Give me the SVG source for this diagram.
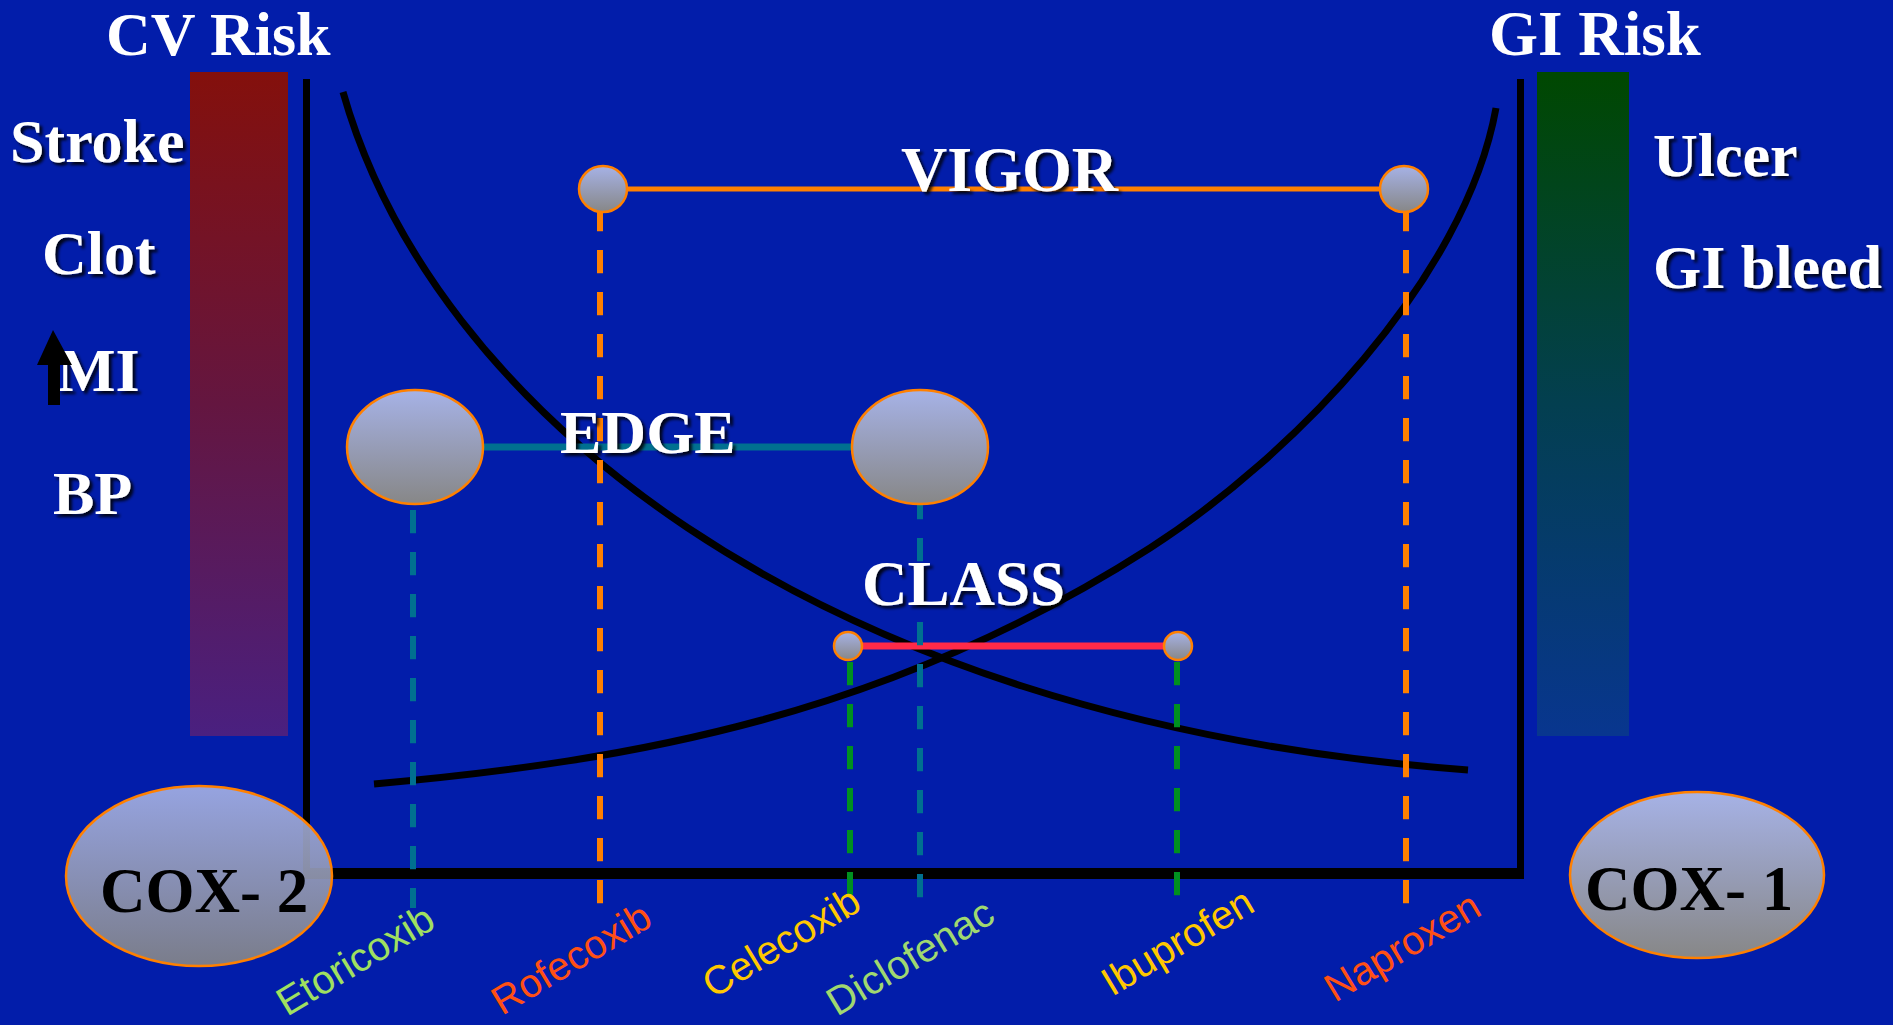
<svg xmlns="http://www.w3.org/2000/svg" width="1893" height="1025" viewBox="0 0 1893 1025">
<defs>
<linearGradient id="gBall" x1="0" y1="0" x2="0" y2="1">
<stop offset="0" stop-color="#a6b2e6"/>
<stop offset="1" stop-color="#878787"/>
</linearGradient>
<linearGradient id="gRed" x1="0" y1="0" x2="0" y2="1">
<stop offset="0" stop-color="#84100c"/>
<stop offset="0.5" stop-color="#641640"/>
<stop offset="1" stop-color="#4a2080"/>
</linearGradient>
<linearGradient id="gGreen" x1="0" y1="0" x2="0" y2="1">
<stop offset="0" stop-color="#004800"/>
<stop offset="0.5" stop-color="#033f50"/>
<stop offset="1" stop-color="#08368f"/>
</linearGradient>
<filter id="sh" x="-10%" y="-20%" width="130%" height="150%">
<feDropShadow dx="3" dy="3" stdDeviation="1.5" flood-color="#000" flood-opacity="0.85"/>
</filter>
</defs>
<style>
.t{font-family:"Liberation Serif","Times New Roman",serif;font-weight:bold;fill:#fff;font-size:62px}
.s{filter:url(#sh)}
.cox{font-family:"Liberation Serif","Times New Roman",serif;font-weight:bold;fill:#000;font-size:63px}
.drug{font-family:"Liberation Sans",Arial,sans-serif;font-size:40px}
.ball{fill:url(#gBall);stroke:#ff8000;stroke-width:2.5}
.axis{stroke:#000;fill:none}
.curve{stroke:#000;stroke-width:7;fill:none}
.dash{fill:none;stroke-width:6;stroke-dasharray:23.3 18.7}
</style>
<rect x="0" y="0" width="1893" height="1025" fill="#021daa"/>

<g id="bars">
<rect x="190" y="72" width="98" height="664" fill="url(#gRed)"/>
<rect x="1537" y="72" width="92" height="664" fill="url(#gGreen)"/>
</g>

<g id="titles">
<text class="t" x="106" y="55">CV Risk</text>
<text class="t" x="1489" y="55" style="font-size:63px">GI Risk</text>
</g>

<g id="cv-list">
<text class="t s" x="10" y="162">Stroke</text>
<text class="t s" x="42" y="274">Clot</text>
<text class="t s" x="57" y="391">MI</text>
<text class="t s" x="53" y="514">BP</text>
<path d="M37,365 L53,330 L72,365 L60,365 L60,405 L48,405 L48,365 Z" fill="#000"/>
</g>

<g id="gi-list">
<text class="t s" x="1653" y="176">Ulcer</text>
<text class="t s" x="1653" y="288">GI bleed</text>
</g>

<g id="axes">
<line class="axis" x1="306.5" y1="79" x2="306.5" y2="878" stroke-width="7"/>
<line class="axis" x1="1520.5" y1="79" x2="1520.5" y2="878" stroke-width="7"/>
<line class="axis" x1="303" y1="873.5" x2="1524" y2="873.5" stroke-width="11"/>
</g>

<g id="curves">
<path class="curve" d="M343,92 C430,400 800,720 1468,770"/>
<path class="curve" d="M374,784 C634,761 890,715 1150,548 C1290,458 1465,280 1496,108"/>
</g>

<g id="connectors">
<line x1="603" y1="189" x2="1404" y2="189" stroke="#ff8000" stroke-width="5"/>
<line x1="415" y1="447" x2="920" y2="447" stroke="#007090" stroke-width="7"/>
<line x1="848" y1="646" x2="1178" y2="646" stroke="#ff2a48" stroke-width="7"/>
<line class="dash" x1="600" y1="208" x2="600" y2="905" stroke="#ff8000"/>
<line class="dash" x1="1406" y1="208" x2="1406" y2="905" stroke="#ff8000"/>
<line class="dash" x1="413" y1="510" x2="413" y2="908" stroke="#007090"/>
<line class="dash" x1="920" y1="496" x2="920" y2="898" stroke="#007090"/>
<line class="dash" x1="850" y1="662" x2="850" y2="896" stroke="#009020"/>
<line class="dash" x1="1177" y1="662" x2="1177" y2="896" stroke="#009020"/>
</g>

<g id="vigor">
<ellipse class="ball" cx="603" cy="189" rx="24" ry="23"/>
<ellipse class="ball" cx="1404" cy="189" rx="24" ry="23"/>
<text class="t s" x="901" y="191" style="font-size:64px">VIGOR</text>
</g>

<g id="edge">
<ellipse class="ball" cx="415" cy="447" rx="68" ry="57"/>
<ellipse class="ball" cx="920" cy="447" rx="68" ry="57"/>
<text class="t s" x="560" y="453">EDGE</text>
</g>

<g id="class">
<circle class="ball" cx="848" cy="646" r="14"/>
<circle class="ball" cx="1178" cy="646" r="14"/>
<text class="t s" x="862" y="605" style="font-size:63px">CLASS</text>
</g>

<g id="cox2">
<ellipse class="ball" cx="199" cy="876" rx="133" ry="90" fill-opacity="0.9"/>
<text class="cox" x="100" y="912">COX- 2</text>
</g>

<g id="cox1">
<ellipse class="ball" cx="1697" cy="875" rx="127" ry="83"/>
<text class="cox" x="1585" y="910">COX- 1</text>
</g>

<g id="drugs">
<text class="drug" fill="#a0e060" transform="translate(287,1017) rotate(-31)">Etoricoxib</text>
<text class="drug" fill="#ff5014" transform="translate(502,1016) rotate(-31)">Rofecoxib</text>
<text class="drug" fill="#ffc800" transform="translate(713,999) rotate(-31)">Celecoxib</text>
<text class="drug" fill="#a0d870" transform="translate(837,1017) rotate(-31)">Diclofenac</text>
<text class="drug" fill="#ffc800" transform="translate(1112,997) rotate(-31)">Ibuprofen</text>
<text class="drug" fill="#ff5014" transform="translate(1335,1003) rotate(-31)">Naproxen</text>
</g>
</svg>
